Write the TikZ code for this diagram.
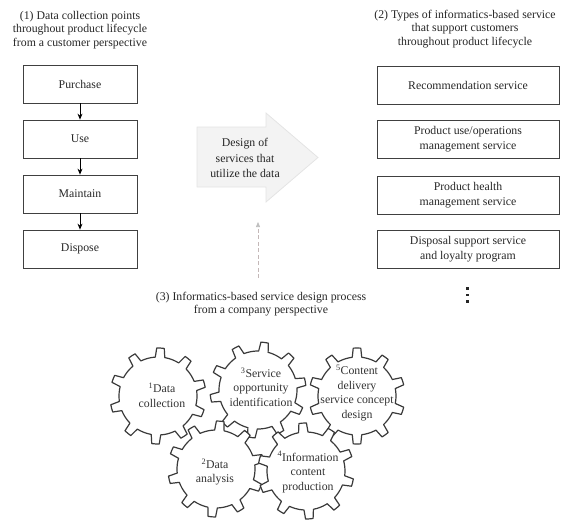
\documentclass[tikz,border=0pt]{standalone}
\usepackage{fontspec}
\setmainfont{Liberation Serif}
\usetikzlibrary{arrows.meta}
\definecolor{boxline}{HTML}{404040}
\definecolor{gearline}{HTML}{3A3A3A}
\definecolor{arrfill}{HTML}{F3F3F3}
\definecolor{arrline}{HTML}{E4E4E4}
\definecolor{dashcol}{HTML}{C4B8B8}
\tikzset{
  txt/.style={font=\fontsize{11.8}{13.6}\selectfont, align=center, text=black!85},
  stagebox/.style={draw=boxline, line width=0.8pt, minimum width=114pt, minimum height=38pt, txt},
  servbox/.style={draw=boxline, line width=0.8pt, minimum width=182pt, minimum height=38pt, txt, font=\fontsize{11.8}{15}\selectfont},
  flow/.style={-{Stealth[length=6pt,width=5pt]}, line width=0.8pt, black},
  gearpath/.style={draw=gearline, line width=1.2pt, fill=white, line join=round},
  geartxt/.style={font=\fontsize{11.8}{14.5}\selectfont, align=center, text=black!80},
}
\newcommand{\gearat}[3]{%
  \begin{scope}[shift={(#1,#2)}, rotate=#3]
  \path[gearpath] (0:39) \foreach \i in {0,...,9}{
     arc[start angle=\i*36, end angle=\i*36+19, radius=39]
     -- (\i*36+21.5:48)
     arc[start angle=\i*36+21.5, end angle=\i*36+30.5, radius=48]
     -- (\i*36+33:39)
     arc[start angle=\i*36+33, end angle=\i*36+36, radius=39]} -- cycle;
  \end{scope}}
\begin{document}
\begin{tikzpicture}[x=1pt,y=-1pt]
\useasboundingbox (0,0) rectangle (566,520);
% titles
\node[txt] (t1) at (80,30) {(1) Data collection points\\throughout product lifecycle\\from a customer perspective};
\node[txt] (t2) at (465,29) {(2) Types of informatics-based service\\that support customers\\throughout product lifecycle};
\node[txt] (t3) at (261,304) {(3) Informatics-based service design process\\from a company perspective};
% left boxes
\node[stagebox] (p) at (80,84) {Purchase};
\node[stagebox] (u) at (80,139) {Use};
\node[stagebox] (m) at (80,194) {Maintain};
\node[stagebox] (d) at (80,249) {Dispose};
\draw[flow] (p) -- (u);
\draw[flow] (u) -- (m);
\draw[flow] (m) -- (d);
% right boxes
\node[servbox] (s1) at (468,85) {Recommendation service};
\node[servbox] (s2) at (468,139.5) {Product use/operations\\management service};
\node[servbox] (s3) at (468,195) {Product health\\management service};
\node[servbox] (s4) at (468,249) {Disposal support service\\and loyalty program};
\fill[black!85] (466,287) rectangle (468.5,289.5);
\fill[black!85] (466,293.5) rectangle (468.5,296);
\fill[black!85] (466,300) rectangle (468.5,302.5);
% big arrow
\path[fill=arrfill, draw=arrline, line width=0.8pt, line join=miter]
  (197,127) -- (266,127) -- (266,113) -- (318,157.5) -- (266,202) -- (266,187) -- (197,187) -- cycle;
\node[txt, font=\fontsize{11.8}{15.5}\selectfont] (design) at (245,158) {Design of\\services that\\utilize the data};
% dashed arrow
\coordinate (dstart) at (258,278);
\coordinate (dend) at (258,222);
\draw[dashcol, line width=0.7pt, dash pattern=on 4pt off 2.5pt, -{Triangle[length=5pt,width=4pt,color=gray!50,fill=gray!50]}] (dstart) -- (dend);
% gears
\gearat{158}{396}{5}
\gearat{258}{390}{0}
\gearat{357}{396}{8}
\gearat{216}{469}{3}
\gearat{306}{471}{12}
\node[geartxt] (g1) at (162,395) {\textsuperscript{1}Data\\collection};
\node[geartxt] (g3) at (261,387) {\textsuperscript{3}Service\\opportunity\\identification};
\node[geartxt] (g5) at (357,393) {\textsuperscript{5}Content\\delivery\\service concept\\design};
\node[geartxt] (g2) at (215,472) {\textsuperscript{2}Data\\analysis};
\node[geartxt] (g4) at (308,472) {\textsuperscript{4}Information\\content\\production};
\end{tikzpicture}
\end{document}
